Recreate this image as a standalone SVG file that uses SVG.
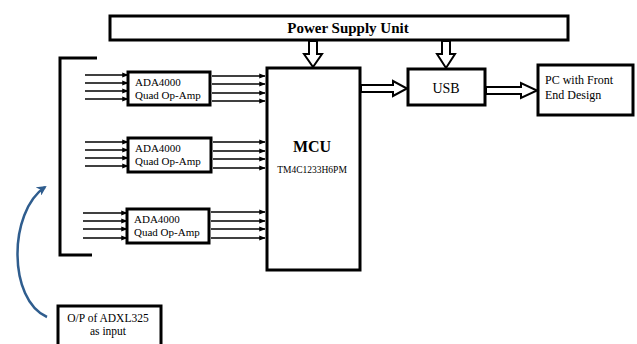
<svg xmlns="http://www.w3.org/2000/svg" width="637" height="344" viewBox="0 0 637 344">
<defs>
<style>
.box{fill:#fff;stroke:#000;stroke-width:3}
.t{fill:#000}
.b{font-weight:bold}
.ln{stroke:#000;stroke-width:1.6;fill:none}
.hol{fill:#fff;stroke:#000;stroke-width:2;stroke-linejoin:miter}
</style>
<marker id="ah" viewBox="0 0 10 10" refX="9" refY="5" markerWidth="4" markerHeight="4" orient="auto" markerUnits="strokeWidth">
<path d="M0,1 L10,5 L0,9 z" fill="#000"/>
</marker>
<marker id="bh" viewBox="0 0 10 10" refX="8" refY="5" markerWidth="4" markerHeight="4" orient="auto" markerUnits="strokeWidth">
<path d="M0,0 L10,5 L0,10 L3,5 z" fill="#2f5d8e"/>
</marker>
</defs>
<rect width="637" height="344" fill="#fff"/>
<g font-family="'Liberation Serif', 'DejaVu Serif', 'Times New Roman', serif">
<g id="psu">
<rect class="box" x="110" y="16" width="458" height="24"/>
<text class="t b" x="348" y="33" font-size="15" text-anchor="middle">Power Supply Unit</text>
</g>

<g id="mcu">
<rect class="box" x="267" y="68" width="93" height="202"/>
<text class="t b" x="312" y="152" font-size="16" text-anchor="middle">MCU</text>
<text class="t" x="312" y="173" font-size="9.5" text-anchor="middle">TM4C1233H6PM</text>
</g>

<g id="usb">
<rect class="box" x="408" y="69" width="77" height="36"/>
<text class="t" x="446" y="93" font-size="14" text-anchor="middle">USB</text>
</g>

<g id="pc">
<rect class="box" x="538" y="65" width="95" height="50"/>
<text class="t" x="545" y="84" font-size="12">PC with Front</text>
<text class="t" x="545" y="99" font-size="12">End Design</text>
</g>

<g id="opamp1">
<rect class="box" x="128" y="72" width="82" height="33"/>
<text class="t" x="135" y="86" font-size="11">ADA4000</text>
<text class="t" x="135" y="99" font-size="11">Quad Op-Amp</text>
</g>
<g id="opamp2">
<rect class="box" x="128" y="138" width="83" height="34"/>
<text class="t" x="135" y="152" font-size="11">ADA4000</text>
<text class="t" x="135" y="165" font-size="11">Quad Op-Amp</text>
</g>
<g id="opamp3">
<rect class="box" x="127" y="209" width="82" height="34"/>
<text class="t" x="134" y="223" font-size="11">ADA4000</text>
<text class="t" x="134" y="236" font-size="11">Quad Op-Amp</text>
</g>

<g id="adxl">
<rect class="box" x="58" y="306" width="103" height="44"/>
<text class="t" x="108" y="322" font-size="11.5" text-anchor="middle">O/P of ADXL325</text>
<text class="t" x="108" y="335" font-size="11.5" text-anchor="middle">as input</text>
</g>
</g>

<g id="bracket">
<path d="M97,58 H60 V255 H92" fill="none" stroke="#000" stroke-width="3"/>
</g>

<g id="connectors">
<g class="ln" marker-end="url(#ah)">
<line x1="85" y1="75" x2="128" y2="75"/>
<line x1="85" y1="83" x2="128" y2="83"/>
<line x1="85" y1="91" x2="128" y2="91"/>
<line x1="85" y1="99" x2="128" y2="99"/>
<line x1="85" y1="142" x2="128" y2="142"/>
<line x1="85" y1="150" x2="128" y2="150"/>
<line x1="85" y1="158" x2="128" y2="158"/>
<line x1="85" y1="166" x2="128" y2="166"/>
<line x1="83" y1="213" x2="127" y2="213"/>
<line x1="83" y1="221" x2="127" y2="221"/>
<line x1="83" y1="229" x2="127" y2="229"/>
<line x1="83" y1="238" x2="127" y2="238"/>
<line x1="212" y1="76" x2="265" y2="76"/>
<line x1="212" y1="84" x2="265" y2="84"/>
<line x1="212" y1="93" x2="265" y2="93"/>
<line x1="212" y1="101" x2="265" y2="101"/>
<line x1="213" y1="142" x2="265" y2="142"/>
<line x1="213" y1="151" x2="265" y2="151"/>
<line x1="213" y1="159" x2="265" y2="159"/>
<line x1="213" y1="168" x2="265" y2="168"/>
<line x1="211" y1="212" x2="265" y2="212"/>
<line x1="211" y1="221" x2="265" y2="221"/>
<line x1="211" y1="229" x2="265" y2="229"/>
<line x1="211" y1="238" x2="265" y2="238"/>
</g>
<polygon class="hol" points="309,41 317,41 317,54 322,54 313,67 304,54 309,54"/>
<polygon class="hol" points="442,41 450,41 450,54 455,54 446,68 437,54 442,54"/>
<polygon class="hol" points="361,85 393,85 393,81 407,88.5 393,96 393,92 361,92"/>
<polygon class="hol" points="486,87 521,87 521,83 537,90.5 521,98 521,94 486,94"/>
<path d="M47,317 C8,300 8,212 45,187" fill="none" stroke="#2f5d8e" stroke-width="2.5" marker-end="url(#bh)"/>
</g>
</svg>
